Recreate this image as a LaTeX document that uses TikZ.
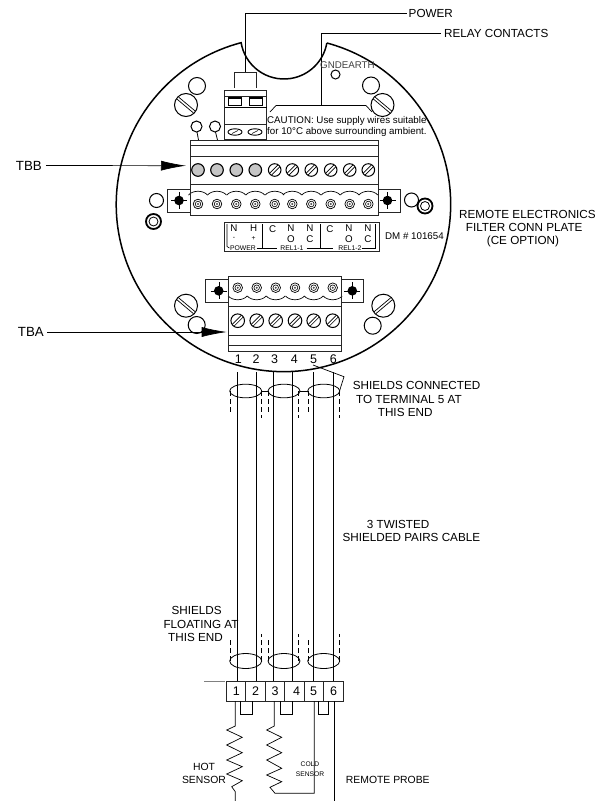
\documentclass[tikz,border=0pt]{standalone}
\usepackage{fontspec}
\setmainfont{Liberation Sans}
\usetikzlibrary{arrows.meta, calc}
\tikzset{
  lbl/.style = {inner sep=0pt, align=center, font=\fontsize{11.7}{13}\selectfont},
  mid/.style = {inner sep=0pt, align=center, font=\fontsize{10.4}{12.7}\selectfont},
  note/.style = {inner sep=0pt, font=\fontsize{9.75}{11}\selectfont},
  tiny/.style = {inner sep=0pt, align=center, font=\fontsize{6.8}{8}\selectfont},
  num/.style = {inner sep=0pt, font=\fontsize{12.5}{13}\selectfont},
  frame/.style = {line width=0.9pt, black!85},
  leader/.style = {line width=0.7pt},
  shield/.style = {line width=0.8pt},
  drain/.style = {line width=0.7pt, dash pattern=on 5pt off 3pt},
  pointer/.style = {line width=0.7pt, -{Latex[length=25pt, width=10pt]}}
}
\newcommand{\slotted}[4]{% x, y, radius, slot angle
  \draw [line width=1pt] (#1,#2) circle (#3);
  \begin{scope}[shift={(#1,#2)}, rotate=#4]
  \draw [line width=0.7pt] (-#3+0.6,-1.3) -- (#3-0.6,-1.3);
  \draw [line width=0.7pt] (-#3+0.6,1.3) -- (#3-0.6,1.3);
  \end{scope}
}
\newcommand{\plainhole}[2]{\draw [line width=1pt] (#1,#2) circle (8.5);}
\newcommand{\ringed}[3]{\draw [line width=1.8pt] (#1,#2) circle (#3);
  \draw [line width=0.8pt] (#1,#2) circle (#3-3);}
\newcommand{\sidetab}[3]{% left, right, dot x; top in \tabtop
  \draw [frame] (#1,\tabtop) rectangle (#2,\tabtop+23);
  \draw [line width=0.4pt] (#3-8,\tabtop+11.5) -- (#3+8,\tabtop+11.5);
  \draw [line width=0.4pt] (#3,\tabtop+3) -- (#3,\tabtop+20);
  \fill (#3,\tabtop+11.5) circle (4.8);
}
\begin{document}
\begin{tikzpicture}[x=1pt, y=-1pt]
\useasboundingbox (0,0) rectangle (597,801);
% housing with notch
\draw [line width=1.5pt] (327,43) arc (-74.9:255.3:167.2);
\draw [line width=1.5pt] (241,42) arc (171.4:9.9:43.5);
% labels at the top
\node [lbl, anchor=west] (power) at (408.5,13.5) {POWER};
\node [lbl, anchor=west] (relay) at (444,33.5) {RELAY CONTACTS};
\coordinate (powerend) at (245.5,72);
\coordinate (relayend) at (321.5,105.5);
\draw [leader] ($(power.west)+(-2,0)$) -| (powerend);
\draw [leader] ($(relay.west)+(-3,0)$) -| (relayend);
% power plug
\draw [frame] (234,88) -- (234,72) -- (256,72) -- (256,88);
\draw [frame] (224.5,90.5) rectangle (266.5,139);
\draw [frame] (224.5,96) -- (266.5,96);
\draw [line width=1.3pt] (224.5,107.5) -- (266.5,107.5);
\draw [frame] (224.5,124) -- (266.5,124);
\foreach \px in {228,249} {
  \draw [line width=0.7pt] (\px,97) rectangle (\px+13.5,105.5);
  \draw [line width=1.5pt] (\px,98) -- (\px+13.5,98);
}
\foreach \px in {235,255} {
  \draw [line width=0.9pt] (\px,132) ellipse (7 and 3.2);
  \draw [line width=0.6pt] (\px-3,133.5) -- (\px+3,130.5);
}
% caution note
\draw [leader] (270,112) -- (276,105.5) -- (relayend) -- (366,105.5) -- (372,112);
\node [note, anchor=west] (caution1) at (267,120.5) {CAUTION: Use supply wires suitable};
\node [note, anchor=west] (caution2) at (267,132) {for 10°C above surrounding ambient.};
\node [note, anchor=west, black!75] (gndearth) at (320,65.5) {GNDEARTH};
\draw [line width=1pt] (335.5,74.5) circle (4.5);
% mounting screws
\plainhole{197}{86}
\plainhole{371}{85.5}
\slotted{186}{105}{11.5}{-40}
\slotted{382.5}{105}{11.5}{-40}
\plainhole{196.7}{325}
\plainhole{372.7}{325.7}
\slotted{186}{305.7}{11.5}{-40}
\slotted{383.3}{305.7}{11.5}{40}
\draw [line width=1pt] (196.5,126.5) circle (5.5);
\draw [line width=0.8pt] (197,132) -- (198.5,140);
\draw [line width=1pt] (215,126.5) circle (5.5);
\draw [line width=0.8pt] (215.5,132) -- (217.5,140);
\draw [line width=1pt] (156.5,200.5) circle (7);
\draw [line width=1pt] (411.5,200) circle (7);
\ringed{153.5}{221.5}{7.5}
\ringed{425}{206}{7.5}
% TBB
\draw [frame] (190.5,140) rectangle (378.5,215);
\draw [frame] (190.5,145) -- (378.5,145);
\draw [frame] (190.5,156) -- (378.5,156);
\draw [frame] (190.5,184.5) -- (378.5,184.5);
\foreach \px in {198,217,236.3,255.3} {
  \draw [line width=1.1pt, fill=gray!45] (\px,170) circle (6.3);
}
\foreach \px in {274.7,292.3,311.3,330.7,349.7,368.3} {
  \slotted{\px}{170}{6.3}{45}
}
\foreach \px in {198,217,236.3,255.3,274.7,292.3,311.3,330.7,349.7,368.3} {
  \draw [line width=0.7pt] (\px,204) circle (4.8);
  \draw [line width=0.6pt] (\px,204) circle (2.8);
  \fill [black!70] (\px,204) circle (1.1);
  \draw [line width=0.7pt] (\px-9.5,195) .. controls (\px-5,190) and (\px+5,190) .. (\px+9.5,195);
}
\def\tabtop{189}
\sidetab{167.5}{190.5}{179}
\sidetab{378.5}{400.5}{387.5}
% terminal legend
\draw [frame] (224.5,222.5) rectangle (379,251.5);
\foreach \px/\py/\ptext in {234/228/N, 253.7/228/H, 272.7/229/C, 291/228/N, 310/228/N, 330/229/C, 349/228/N, 368/228/N, 291/239/O, 310/239/C, 349/239/O, 368/239/C} {
  \node [note] at (\px,\py) {\ptext};
}
\node [tiny] (minus) at (234,238) {-};
\node [tiny] (plus) at (253.5,238.5) {+};
\node [tiny] (relpower) at (243,248) {POWER};
\node [tiny] (rela) at (292,248) {REL1-1};
\node [tiny] (relb) at (350,248) {REL1-2};
\draw [line width=0.6pt] (227,224) -- (227,246.5) -- (229.5,248);
\draw [line width=0.6pt] (262.3,224) -- (262.3,248);
\draw [line width=0.6pt] (256.7,248) -- (276.7,248);
\draw [line width=0.6pt] (306.7,248) -- (333.3,248);
\draw [line width=0.6pt] (320.3,224) -- (320.3,248);
\draw [line width=0.6pt] (361.7,248.5) -- (375,248.5) -- (375,224);
\node [note, anchor=west] (dmnum) at (385,236.5) {DM \# 101654};
\node [lbl, anchor=west] (plate1) at (459,214.7) {REMOTE ELECTRONICS};
\node [lbl, anchor=west] (plate2) at (465.7,227.7) {FILTER CONN PLATE};
\node [lbl, anchor=west] (plate3) at (486.7,241) {(CE OPTION)};
% TBA
\draw [frame] (228.3,276) rectangle (341,351);
\draw [frame] (228.3,306.7) -- (341,306.7);
\draw [frame] (228.3,335) -- (341,335);
\draw [frame] (228.3,345.7) -- (341,345.7);
\foreach \px in {237.7,256.7,275.7,295,313.7,332.7} {
  \draw [line width=0.7pt] (\px,287.7) circle (4.8);
  \draw [line width=0.6pt] (\px,287.7) circle (2.8);
  \fill [black!70] (\px,287.7) circle (1.1);
  \draw [line width=0.7pt] (\px-9.5,296) .. controls (\px-5,301) and (\px+5,301) .. (\px+9.5,296);
  \slotted{\px}{320.7}{6.8}{45}
}
\def\tabtop{279.3}
\sidetab{205.7}{228.3}{218.7}
\sidetab{341}{363.7}{352.3}
% pointers
\node [inner sep=0pt, font=\fontsize{13.3}{14}\selectfont, anchor=east] (tbb) at (42,165.5) {TBB};
\node [inner sep=0pt, font=\fontsize{13.3}{14}\selectfont, anchor=east] (tba) at (44,332) {TBA};
\coordinate (tbbtip) at (186,165.7);
\coordinate (tbatip) at (226.7,332);
\draw [pointer] ($(tbb.east)+(4,0)$) -- (tbbtip);
\draw [pointer] ($(tba.east)+(3,0)$) -- (tbatip);
% cable
\foreach \px/\pnum in {238.3/1,256/2,274.7/3,294.3/4,313.7/5,333.3/6} {
  \node [num] at (\px,359.3) {\pnum};
}
\foreach \px in {237.3,256.3,273.7,292,313,333.3} {
  \draw [line width=0.8pt] (\px,372) -- (\px,681);
}
\foreach \px in {245.7,284,323.7} {
  \draw [shield] (\px,391) ellipse (16 and 6.8);
  \draw [shield] (\px,661) ellipse (16 and 7.5);
}
\draw [shield] (261.7,391) -- (268,391);
\draw [shield] (299.7,391) -- (307.7,391);
\foreach \px/\py in {230/413, 261/418, 268.3/413, 298.7/418, 308.3/413, 339.3/418} {
  \draw [drain] (\px,391) -- (\px,\py);
}
\foreach \px/\py in {230/639, 261/634, 268.3/639, 298.7/634, 308.3/639, 339.3/634} {
  \draw [drain] (\px,661) -- (\px,\py);
}
\draw [leader] (313,365) -- (344,376.7) -- (339.3,391.7);
\node [lbl, anchor=west] (connected1) at (352.7,385.7) {SHIELDS CONNECTED};
\node [lbl, anchor=west] (connected2) at (356,399) {TO TERMINAL 5 AT};
\node [lbl, anchor=west] (connected3) at (377.7,412) {THIS END};
\node [lbl, anchor=west] (twisted1) at (366.7,524) {3 TWISTED};
\node [lbl, anchor=west] (twisted2) at (342.3,537) {SHIELDED PAIRS CABLE};
\node [lbl] (floating1) at (196.7,610.7) {SHIELDS};
\node [lbl] (floating2) at (201,624.7) {FLOATING AT};
\node [lbl] (floating3) at (195.5,637.7) {THIS END};
% remote probe terminals
\draw [frame] (226,681) rectangle (343,701);
\foreach \px in {245.7,265.3,284.7,304.3,323.3} {
  \draw [frame] (\px,681) -- (\px,701);
}
\draw [line width=0.6pt, gray] (204.3,681) -- (225,681);
\foreach \px/\pnum in {236.3/1,255.7/2,275/3,296.7/4,313.7/5,333.7/6} {
  \node [num] at (\px,691) {\pnum};
}
\foreach \pa/\pb in {240/252,280/292,318/328.7} {
  \draw [line width=0.7pt] (\pa,701) -- (\pa,714.5) -- (\pb,714.5) -- (\pb,701);
}
\draw [line width=0.7pt] (235.3,701) -- (235.3,726) -- (226.7,730) -- (242.3,737.3) -- (226.7,745) -- (242.3,752.7) -- (226.7,760) -- (242.3,766.7) -- (226.7,774) -- (242.3,780.7) -- (231.7,786.7) -- (235.3,791.7) -- (235.3,801);
\draw [line width=0.7pt] (274.3,701) -- (274.3,726) -- (266.7,730) -- (281.7,737.3) -- (266.7,745) -- (281.7,752.7) -- (266.7,760) -- (281.7,768.3) -- (266.7,775) -- (281.7,781.7) -- (270,787.3) -- (275,793.3) -- (314.3,793.3) -- (314.3,701);
\draw [line width=0.7pt] (334,701) -- (334,801);
\node [mid] (hot) at (204,773.6) {HOT\\SENSOR};
\node [inner sep=0pt, align=center, font=\fontsize{6.7}{10}\selectfont] (cold) at (310,769) {COLD\\SENSOR};
\node [mid, anchor=west] (probe) at (345.7,780) {REMOTE PROBE};
\end{tikzpicture}
\end{document}
